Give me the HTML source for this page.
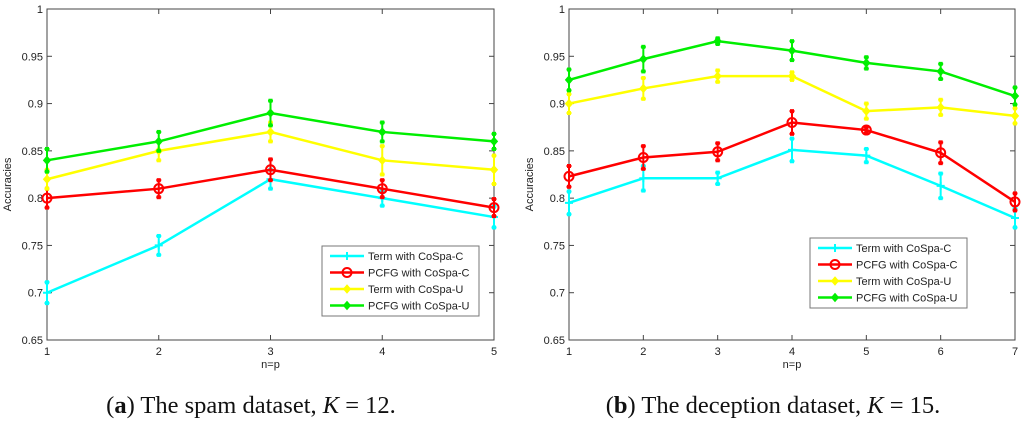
<!DOCTYPE html>
<html><head><meta charset="utf-8"><style>
html,body{margin:0;padding:0;background:#fff;}
svg{display:block;font-family:"Liberation Sans",sans-serif;}
.cap{font-family:"Liberation Serif",serif;font-size:24.5px;fill:#111;}
</style></head><body>
<svg id="chart" width="1024" height="422" viewBox="0 0 1024 422" xmlns="http://www.w3.org/2000/svg"></svg>
<script>
const seriesNames = ["Term with CoSpa-C","PCFG with CoSpa-C","Term with CoSpa-U","PCFG with CoSpa-U"];
const yTicks = [0.65,0.7,0.75,0.8,0.85,0.9,0.95,1];
const yTickLabels = ["0.65","0.7","0.75","0.8","0.85","0.9","0.95","1"];
const spamX = [1,2,3,4,5];
const spamTermC = [0.70,0.75,0.82,0.80,0.78];
const spamPcfgC = [0.80,0.81,0.83,0.81,0.79];
const spamTermU = [0.82,0.85,0.87,0.84,0.83];
const spamPcfgU = [0.84,0.86,0.89,0.87,0.86];
const spamErrTermC = [0.011,0.010,0.010,0.008,0.011];
const spamErrPcfgC = [0.010,0.009,0.011,0.009,0.009];
const spamErrTermU = [0.010,0.010,0.010,0.015,0.015];
const spamErrPcfgU = [0.012,0.010,0.013,0.010,0.008];
const decX = [1,2,3,4,5,6,7];
const decTermC = [0.795,0.821,0.821,0.851,0.845,0.813,0.779];
const decPcfgC = [0.823,0.843,0.849,0.880,0.872,0.848,0.796];
const decTermU = [0.900,0.916,0.929,0.929,0.892,0.896,0.887];
const decPcfgU = [0.925,0.947,0.966,0.956,0.943,0.934,0.908];
const decErrTermC = [0.012,0.013,0.006,0.012,0.007,0.013,0.010];
const decErrPcfgC = [0.011,0.012,0.009,0.012,0.003,0.011,0.009];
const decErrTermU = [0.010,0.011,0.006,0.004,0.008,0.008,0.008];
const decErrPcfgU = [0.011,0.013,0.003,0.010,0.006,0.008,0.009];

const colors = ["#00ffff","#ff0000","#ffff00","#00ee00"];
const NS = "http://www.w3.org/2000/svg";
const svg = document.getElementById("chart");
function mk(tag, attrs, parent){const e=document.createElementNS(NS,tag);for(const k in attrs)e.setAttribute(k,attrs[k]);(parent||svg).appendChild(e);return e;}

function marker(g, kind, x, y, c){
  if(kind===0){
    const m=mk("path",{d:`M${x-4},${y}H${x+4}M${x},${y-4}V${y+4}`,stroke:c,"stroke-width":2},g);
    
    
  } else if(kind===1){
    const m=mk("circle",{cx:x,cy:y,r:4.5,fill:"none",stroke:c,"stroke-width":2},g);
    
    
  } else {
    const m=mk("path",{d:`M${x},${y-4}L${x+3.5},${y}L${x},${y+4}L${x-3.5},${y}Z`,fill:c,stroke:c,"stroke-width":1},g);
    
    
  }
}

function drawChart(opt){
  const {name,left,right,top,bottom,xs,series,errs,legend,caption,capX} = opt;
  const g = mk("g",{});
  
  
  const xMin=xs[0], xMax=xs[xs.length-1];
  const X = v => left + (v-xMin)/(xMax-xMin)*(right-left);
  const Y = v => bottom - (v-0.65)/(1-0.65)*(bottom-top);
  const frame=mk("rect",{x:left,y:top,width:right-left,height:bottom-top,fill:"#fff",stroke:"#444","stroke-width":1},g);
  
  
  yTicks.forEach((t,i)=>{
    const y=Y(t);
    mk("line",{x1:left,x2:left+5,y1:y,y2:y,stroke:"#444"},g);
    mk("line",{x1:right,x2:right-5,y1:y,y2:y,stroke:"#444"},g);
    const tl=mk("text",{x:left-4,y:y+4,"text-anchor":"end","font-size":11,fill:"#222"},g);
    tl.textContent=yTickLabels[i];
    
    
  });
  xs.forEach(v=>{
    const x=X(v);
    mk("line",{x1:x,x2:x,y1:bottom,y2:bottom-5,stroke:"#444"},g);
    mk("line",{x1:x,x2:x,y1:top,y2:top+5,stroke:"#444"},g);
    const tl=mk("text",{x:x,y:bottom+15,"text-anchor":"middle","font-size":11,fill:"#222"},g);
    tl.textContent=String(v);
    
    
  });
  const xt=mk("text",{x:(left+right)/2,y:bottom+28,"text-anchor":"middle","font-size":11,fill:"#222"},g);
  xt.textContent="n=p";
  
  
  const yt=mk("text",{x:0,y:0,"text-anchor":"middle","font-size":11,fill:"#222",transform:`translate(${left-36},${(top+bottom)/2+10}) rotate(-90)`},g);
  yt.textContent="Accuracies";
  
  

  series.forEach((vals,si)=>{
    const c=colors[si];
    const sg=mk("g",{},g);
    
    
    vals.forEach((v,i)=>{
      const x=X(xs[i]), e=errs[si][i];
      const y1=Y(v+e), y2=Y(v-e);
      const eb=mk("path",{d:`M${x},${y1}V${y2}M${x-2.5},${y1}H${x+2.5}M${x-2.5},${y2}H${x+2.5}`,stroke:c,"stroke-width":2},sg);
      
      
      mk("rect",{x:x-2,y:y1-2,width:4,height:4,fill:c},sg);
      mk("rect",{x:x-2,y:y2-2,width:4,height:4,fill:c},sg);
    });
    const pts=vals.map((v,i)=>X(xs[i])+","+Y(v)).join(" ");
    const pl=mk("polyline",{points:pts,fill:"none",stroke:c,"stroke-width":2.5},sg);
    
    
    vals.forEach((v,i)=>marker(sg,si,X(xs[i]),Y(v),c));
  });

  const lg=mk("g",{},g);
  
  
  mk("rect",{x:legend.x,y:legend.y,width:157,height:70,fill:"#fff",stroke:"#777","stroke-width":1},lg);
  seriesNames.forEach((n,i)=>{
    const y=legend.y+10+i*16.5;
    mk("line",{x1:legend.x+8,x2:legend.x+42,y1:y,y2:y,stroke:colors[i],"stroke-width":2.5},lg);
    marker(lg,i,legend.x+25,y,colors[i]);
    const t=mk("text",{x:legend.x+46,y:y+4,"font-size":11,fill:"#222"},lg);
    t.textContent=n;
    
    
  });

  const cap=mk("text",{x:capX,y:413,"text-anchor":"middle",class:"cap"},g);
  
  
  cap.innerHTML=caption;
}

drawChart({name:"spam-chart",left:47,right:494,top:9,bottom:340,xs:spamX,
  series:[spamTermC,spamPcfgC,spamTermU,spamPcfgU],
  errs:[spamErrTermC,spamErrPcfgC,spamErrTermU,spamErrPcfgU],
  legend:{x:322,y:246},capX:251,
  caption:'(<tspan font-weight="bold">a</tspan>) The spam dataset, <tspan font-style="italic">K</tspan> = 12.'});
drawChart({name:"deception-chart",left:569,right:1015,top:9,bottom:340,xs:decX,
  series:[decTermC,decPcfgC,decTermU,decPcfgU],
  errs:[decErrTermC,decErrPcfgC,decErrTermU,decErrPcfgU],
  legend:{x:810,y:238},capX:773,
  caption:'(<tspan font-weight="bold">b</tspan>) The deception dataset, <tspan font-style="italic">K</tspan> = 15.'});
</script>
</body></html>
